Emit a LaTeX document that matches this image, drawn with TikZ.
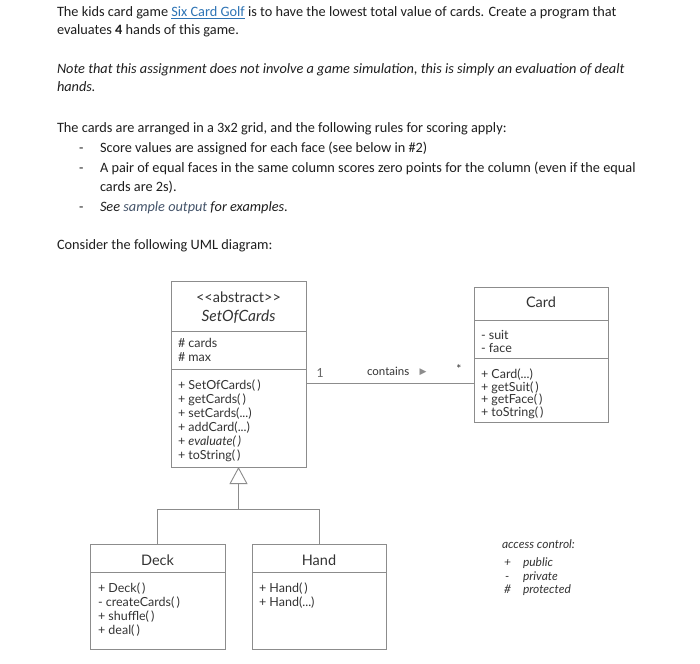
\documentclass[tikz,border=0pt]{standalone}
\usepackage{fontspec}
\setmainfont{Carlito}
\newfontfamily\umlfont{Lato}
\newfontfamily\symfont{DejaVu Sans}
\usetikzlibrary{arrows.meta}
\definecolor{txt}{HTML}{1E1E1E}
\definecolor{linkc}{HTML}{2E74B5}
\definecolor{samp}{HTML}{44546A}
\definecolor{ugray}{HTML}{8C8C8C}
\definecolor{utxt}{HTML}{333333}
\newcommand\ddd{...}
\begin{document}
\begin{tikzpicture}[x=1pt,y=-1pt,
  body/.style={anchor=base west, inner sep=0, outer sep=0, text=txt, font=\fontsize{14.3}{16}\selectfont},
  cls/.style={draw=ugray, line width=0.9pt, inner sep=0, outer sep=0, anchor=north west},
  div/.style={draw=ugray, line width=0.9pt},
  conn/.style={draw=ugray, line width=0.9pt},
  mem/.style={anchor=base west, inner sep=0, outer sep=0, text=utxt, font=\umlfont\fontsize{12.5}{14}\selectfont},
  ttl/.style={anchor=base, inner sep=0, outer sep=0, text=utxt, font=\umlfont\fontsize{14.5}{16}\selectfont},
  acc/.style={anchor=base west, inner sep=0, outer sep=0, text=utxt, font=\umlfont\itshape\fontsize{12}{13}\selectfont}]
\useasboundingbox[fill=white] (0,0) rectangle (700,663);

% ---------- text ----------
\node[body] (l1) at (57,17) {The kids card game {\color{linkc}\underline{Six Card Golf}} is to have the lowest total value of cards. Create a program that};
\node[body] (l2) at (57,35) {evaluates \textbf{4} hands of this game.};
\node[body] (l3) at (57,74) {\itshape Note that this assignment does not involve a game simulation, this is simply an evaluation of dealt};
\node[body] (l4) at (57,92) {\itshape hands.};
\node[body] (l5) at (57,133) {The cards are arranged in a 3x2 grid, and the following rules for scoring apply:};
\node[body] (d1) at (79,153) {-};
\node[body] (b1) at (100,153) {Score values are assigned for each face (see below in \#2)};
\node[body] (d2) at (79,172) {-};
\node[body] (b2) at (100,172) {A pair of equal faces in the same column scores zero points for the column (even if the equal};
\node[body] (b2b) at (100,191) {cards are 2s).};
\node[body] (d3) at (79,211) {-};
\node[body] (b3) at (100,211) {\itshape See {\color{samp}sample output} for examples.};
\node[body] (l6) at (57,249) {Consider the following UML diagram:};

% ---------- SetOfCards ----------
\node[cls, minimum width=135, minimum height=186] (soc) at (171,281) {};
\draw[div] (soc.west |- 0,331) -- (soc.east |- 0,331);
\draw[div] (soc.west |- 0,369) -- (soc.east |- 0,369);
\node[ttl, font=\umlfont\fontsize{14.5}{16}\selectfont] (socst) at (238.5,302) {<<abstract>>};
\node[ttl, font=\umlfont\itshape\fontsize{15.5}{17}\selectfont] (soct) at (238.5,321) {SetOfCards};
\node[mem] (soca1) at (178,347) {\# cards};
\node[mem] (soca2) at (178,361) {\# max};
\foreach \t [count=\i from 0] in {{+ SetOfCards(\,)},{+ getCards(\,)},{+ setCards(\ddd)},{+ addCard(\ddd)},{+ \textit{evaluate(\,)}},{+ toString(\,)}}
  \node[mem] (socm\i) at (178,{389+14*\i}) {\t};

% ---------- Card ----------
\node[cls, minimum width=134, minimum height=135] (card) at (474,287) {};
\draw[div] (card.west |- 0,320) -- (card.east |- 0,320);
\draw[div] (card.west |- 0,358) -- (card.east |- 0,358);
\node[ttl] (cardt) at (541,307) {Card};
\node[mem] (carda1) at (481,339) {- suit};
\node[mem] (carda2) at (481,352) {- face};
\foreach \t [count=\i from 0] in {{+ Card(\ddd)},{+ getSuit(\,)},{+ getFace(\,)},{+ toString(\,)}}
  \node[mem] (cardm\i) at (481,{378.5+12.7*\i}) {\t};

% ---------- Deck ----------
\node[cls, minimum width=135, minimum height=105] (deck) at (90,544) {};
\draw[div] (deck.west |- 0,572) -- (deck.east |- 0,572);
\node[ttl] (deckt) at (157.5,565) {Deck};
\foreach \t [count=\i from 0] in {{+ Deck(\,)},{- createCards(\,)},{+ shuffle(\,)},{+ deal(\,)}}
  \node[mem] (deckm\i) at (98,{592+14.3*\i}) {\t};

% ---------- Hand ----------
\node[cls, minimum width=134, minimum height=105] (hand) at (252,544) {};
\draw[div] (hand.west |- 0,572) -- (hand.east |- 0,572);
\node[ttl] (handt) at (319,565) {Hand};
\foreach \t [count=\i from 0] in {{+ Hand(\,)},{+ Hand(\ddd)}}
  \node[mem] (handm\i) at (259,{592+14.3*\i}) {\t};

% ---------- association ----------
\draw[conn] (soc.east |- 0,383) -- (card.west |- 0,383);
\node[inner sep=0, anchor=base, text=ugray!75!black, font=\fontsize{14}{15}\selectfont] (one) at (320,377) {1};
\node[mem, font=\umlfont\fontsize{11.5}{12}\selectfont] (contains) at (367,375) {contains};
\node[inner sep=0, text=ugray, font=\symfont\fontsize{9}{10}\selectfont] (arrowsym) at (423,372) {▶};
\node[inner sep=0, text=utxt, font=\umlfont\fontsize{12}{12}\selectfont] (star) at (459,369) {*};

% ---------- generalization ----------
\coordinate (junc) at (soc.south |- 0,509);
\draw[conn] (deck.north) -- (deck.north |- junc) -- (hand.north |- junc) -- (hand.north);
\draw[conn, -{Triangle[open, length=17pt, width=18pt]}] (junc) -- (soc.south);

% ---------- access control ----------
\node[acc] (acct) at (502,548) {access control:};
\node[acc] (accp) at (504,566) {+};
\node[acc] (accpt) at (523,566) {public};
\node[acc] (accm) at (505,580) {-};
\node[acc] (accmt) at (523,580) {private};
\node[acc] (acch) at (504,593) {\#};
\node[acc] (accht) at (523,593) {protected};
\end{tikzpicture}
\end{document}
